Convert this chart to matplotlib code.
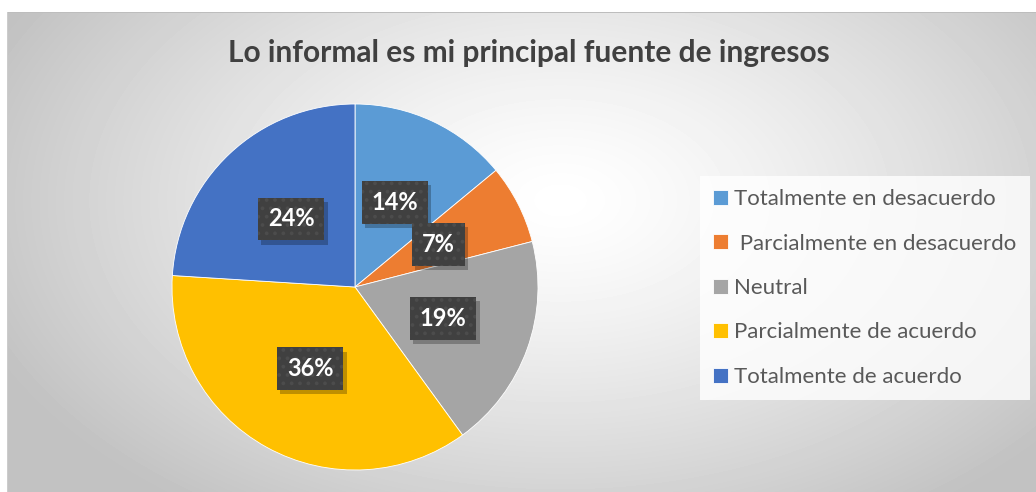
import numpy as np
from matplotlib import pyplot as plt
from matplotlib import patheffects as pe

# data
title = "Lo informal es mi principal fuente de ingresos"
categories = ["Totalmente en desacuerdo", " Parcialmente en desacuerdo", "Neutral",
              "Parcialmente de acuerdo", "Totalmente de acuerdo"]
values = [14, 7, 19, 36, 24]
colors = ["#5B9BD5", "#ED7D31", "#A5A5A5", "#FFC000", "#4472C4"]

W, H = 1036, 492
plt.rcParams['font.family'] = ['Lato', 'DejaVu Sans']
plt.rcParams['hatch.linewidth'] = 1.5


class NoHatchShadow(pe.SimplePatchShadow):
    # shadow of the label box without the dotted hatch
    def draw_path(self, renderer, gc, tpath, affine, rgbFace):
        gc0 = renderer.new_gc()
        gc0.copy_properties(gc)
        gc0.set_hatch(None)
        super().draw_path(renderer, gc0, tpath, affine, rgbFace)


fig = plt.figure(figsize=(W / 100, H / 100), dpi=100)

# radial gradient background (chart area starts at x=8, y=12)
bg = fig.add_axes([0, 0, 1, 1])
yy, xx = np.mgrid[0:H, 0:W]
d = np.sqrt(((xx - 560) / 620.0) ** 2 + ((yy - 200) / 380.0) ** 2)
g = 1.0 - 0.24 * np.clip(d, 0, 1) ** 1.3
g[:12, :] = 1.0
g[:, :7] = 1.0
g[12, 7:] = 0.74
g[12:, 7] = 0.80
bg.imshow(g, cmap="gray", vmin=0, vmax=1, extent=[0, W, H, 0], aspect="auto", interpolation="bilinear")
bg.set_xlim(0, W)
bg.set_ylim(H, 0)
bg.axis("off")

fig.text(529 / W, 1 - 53 / H, title, ha="center", va="center", fontsize=21.5,
         fontweight="bold", color="#404040")

# pie
cx, cy, r = 355, 287, 183
ax = fig.add_axes([(cx - r) / W, (H - cy - r) / H, 2 * r / W, 2 * r / H])
wedges, _ = ax.pie(values, colors=colors, startangle=90, counterclock=False,
                   radius=1, wedgeprops=dict(linewidth=0.6, edgecolor="white"))
ax.set_xlim(-1, 1)
ax.set_ylim(-1, 1)
ax.axis("off")

cum = np.cumsum([0] + values[:-1])
total = sum(values)
for v, c0 in zip(values, cum):
    ang = np.deg2rad(90 - 360 * (c0 + v / 2) / total)
    px, py = 0.51 * np.cos(ang), 0.51 * np.sin(ang)
    lbl = "%d%%" % round(100 * v / total)
    t = ax.text(px, py, lbl, ha="center", va="center", fontsize=17, fontweight="bold",
                color="white",
                bbox=dict(boxstyle="square,pad=0.42", fc="#404040", ec="#4c4c4c", lw=0, hatch=".."))
    t.get_bbox_patch().set_path_effects([
        NoHatchShadow(offset=(2.5, -3), shadow_rgbFace="black", alpha=0.25),
        pe.Normal()])

leg = fig.legend(wedges, categories, loc="center left", bbox_to_anchor=(700 / W, 1 - 288 / H),
                 frameon=True, fontsize=16, labelcolor="#595959", handlelength=0.65,
                 handleheight=0.65, handletextpad=0.3, labelspacing=1.1, borderpad=0.6,
                 borderaxespad=0, fancybox=False)
leg.get_frame().set_facecolor((1, 1, 1, 0.45))
leg.get_frame().set_linewidth(0)

fig.savefig("out.png", dpi=100)
